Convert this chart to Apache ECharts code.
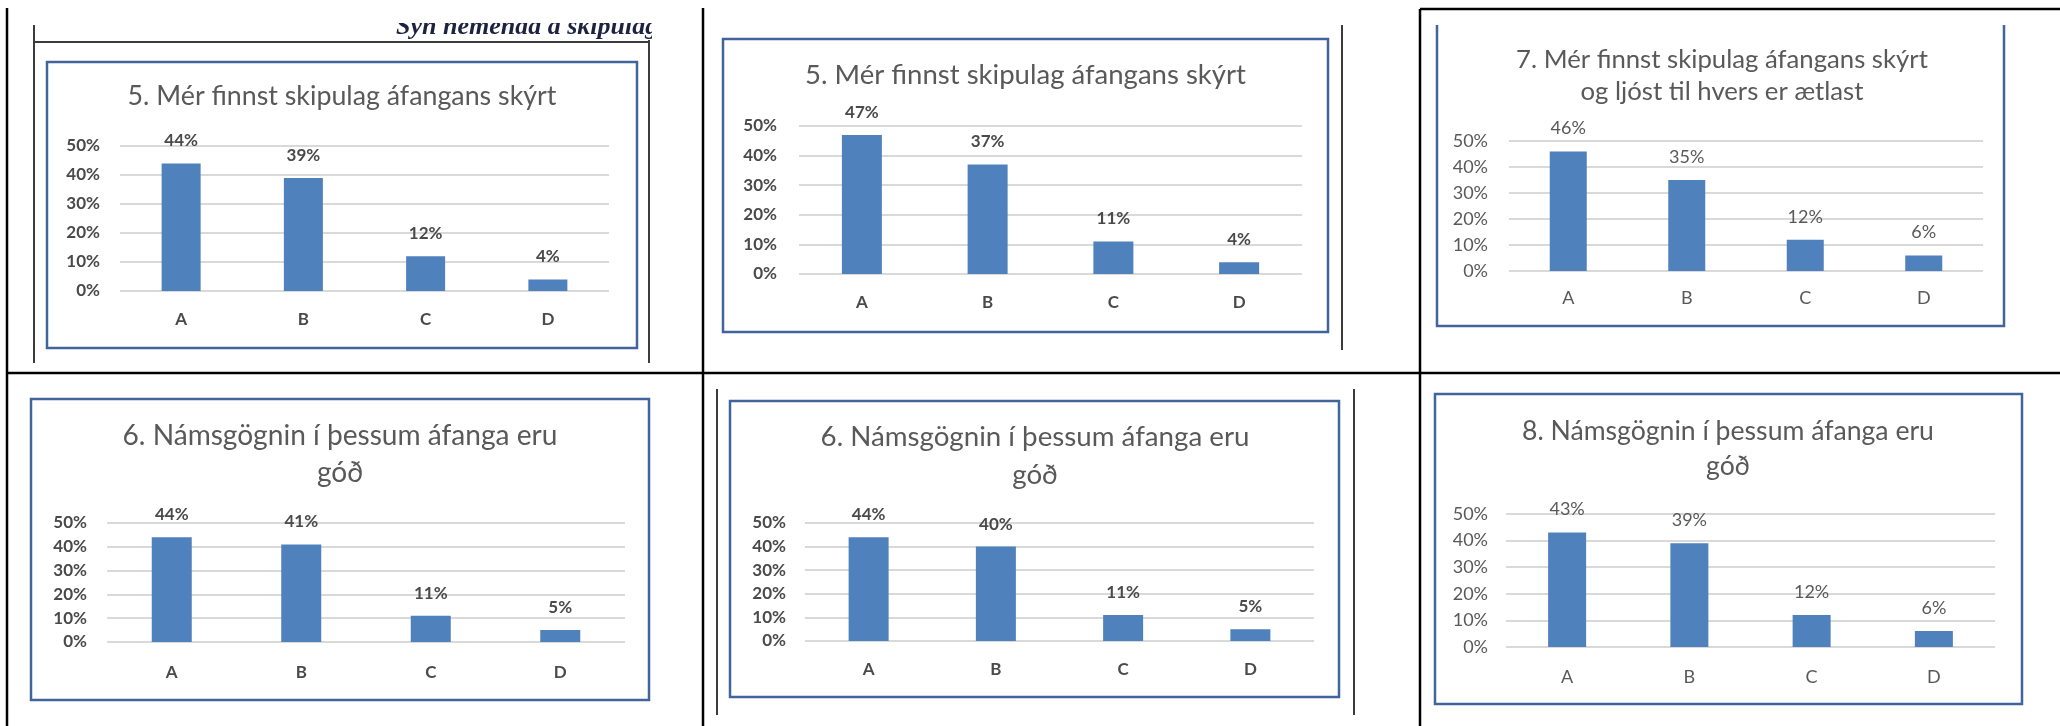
<!DOCTYPE html>
<html>
<head>
<meta charset="utf-8">
<title>Skipulag og námsgögn</title>
<script src="https://cdn.jsdelivr.net/npm/echarts@6/dist/echarts.min.js"></script>
<style>
    html, body { margin: 0; padding: 0; background: #fff; }
    #chart { width: 2060px; height: 726px; }
</style>
</head>
<body>
<div id="chart"></div>
<script>
    // data
    const categories = ['A', 'B', 'C', 'D'];
    const q5first = [44, 39, 12, 4];
    const q5second = [47, 37, 11, 4];
    const q7 = [46, 35, 12, 6];
    const q6first = [44, 41, 11, 5];
    const q6second = [44, 40, 11, 5];
    const q8 = [43, 39, 12, 6];
    const yMin = 0, yMax = 50, yStep = 10;

    const title5 = '5. Mér finnst skipulag áfangans skýrt';
    const title6 = '6. Námsgögnin í þessum áfanga eru\ngóð';
    const title7 = '7. Mér finnst skipulag áfangans skýrt\nog ljóst til hvers er ætlast';
    const title8 = '8. Námsgögnin í þessum áfanga eru\ngóð';
    const caption = 'Sýn nemenda á skipulag';

    // layout of each panel (px in the 2060x726 page)
    const panels = [
        {title: title5, data: q5first,  grid: [120, 146, 489, 145], box: [47, 62, 590, 286],   cx: 342,    base: 107, tw: 429, lh: 36, bold: true,  bar: 39, xm: 20, ym: 20},
        {title: title5, data: q5second, grid: [799, 126, 503, 148], box: [723, 39, 605, 293],  cx: 1025.5, base: 86,  tw: 441, lh: 36, bold: true,  bar: 40, xm: 20, ym: 22},
        {title: title7, data: q7,       grid: [1509, 141, 474, 130], box: null,                cx: 1722,   base: 70,  tw: 412, lh: 32, bold: false, bar: 37, xm: 18, ym: 21},
        {title: title6, data: q6first,  grid: [107, 523, 518, 119], box: [31, 399, 618, 301],  cx: 340,    base: 447, tw: 435, lh: 37, bold: true,  bar: 40, xm: 22, ym: 20},
        {title: title6, data: q6second, grid: [805, 523, 509, 118], box: [730, 401, 609, 296], cx: 1035,   base: 448, tw: 429, lh: 38, bold: true,  bar: 40, xm: 20, ym: 19},
        {title: title8, data: q8,       grid: [1506, 514, 489, 133], box: [1435, 394, 587, 310], cx: 1728, base: 442, tw: 412, lh: 35, bold: false, bar: 38, xm: 21, ym: 18}
    ];

    const font = 'Lato';
    const barColor = '#4F81BD';
    const gridColor = '#d9d9d9';
    const frameBlue = '#41659b';
    const frameGray = '#3c3c3c';

    // size the title font so the first line is as wide as in the picture
    const ctx = document.createElement('canvas').getContext('2d');
    function fitSize(text, target) {
        ctx.font = '400 100px ' + font;
        return 100 * target / ctx.measureText(text.split('\n')[0]).width;
    }

    const titles = [], grids = [], xAxes = [], yAxes = [], series = [];
    panels.forEach(function (p, i) {
        const fs = fitSize(p.title, p.tw);
        titles.push({
            text: p.title,
            left: p.cx,
            top: p.base - p.lh / 2 - 0.387 * fs,
            textAlign: 'center',
            padding: 0,
            textStyle: {fontFamily: font, fontWeight: 'normal', fontSize: fs, lineHeight: p.lh, color: '#595959'}
        });
        const txt = {
            fontFamily: font,
            fontWeight: p.bold ? 'bold' : 'normal',
            fontSize: p.bold ? 17 : 18,
            color: p.bold ? '#4a4a4a' : '#595959'
        };
        grids.push({left: p.grid[0], top: p.grid[1], width: p.grid[2], height: p.grid[3]});
        xAxes.push({
            gridIndex: i, type: 'category', data: categories,
            axisLine: {show: false}, axisTick: {show: false},
            axisLabel: Object.assign({margin: p.xm}, txt)
        });
        yAxes.push({
            gridIndex: i, type: 'value', min: yMin, max: yMax, interval: yStep,
            axisLine: {show: false}, axisTick: {show: false},
            axisLabel: Object.assign({margin: p.ym, formatter: '{value}%'}, txt),
            splitLine: {lineStyle: {color: gridColor, width: 2}}
        });
        series.push({
            type: 'bar', xAxisIndex: i, yAxisIndex: i,
            data: p.data, barWidth: p.bar,
            itemStyle: {color: barColor},
            label: Object.assign({show: true, position: 'top', distance: 14, formatter: '{c}%'}, txt)
        });
    });

    // table rules, pasted picture edges and chart frames
    const graphic = [];
    function rule(x1, y1, x2, y2, color, w) {
        graphic.push({type: 'line', shape: {x1: x1, y1: y1, x2: x2, y2: y2}, style: {stroke: color, lineWidth: w}, z: 10});
    }
    rule(7, 8, 7, 726, '#000', 2.5);
    rule(703, 8, 703, 726, '#000', 2.5);
    rule(1420, 9, 1420, 726, '#000', 2.5);
    rule(7, 373, 2060, 373, '#000', 2.5);
    rule(1420, 9, 2060, 9, '#000', 2.5);
    rule(34, 25, 34, 363, frameGray, 2);
    rule(34, 42, 650, 42, frameGray, 2);
    rule(649, 40, 649, 363, frameGray, 2);
    rule(1342, 25, 1342, 350, frameGray, 2);
    rule(717, 389, 717, 715, frameGray, 2);
    rule(1354, 389, 1354, 715, frameGray, 2);

    panels.forEach(function (p) {
        if (!p.box) return;
        graphic.push({
            type: 'rect',
            shape: {x: p.box[0], y: p.box[1], width: p.box[2], height: p.box[3]},
            style: {fill: 'none', stroke: frameBlue, lineWidth: 2.5}, z: 10
        });
    });
    graphic.push({
        type: 'polyline',
        shape: {points: [[1437, 25], [1437, 326], [2004, 326], [2004, 25]]},
        style: {fill: 'none', stroke: frameBlue, lineWidth: 2.5}, z: 10
    });

    // clipped caption of the pasted picture
    graphic.push({
        type: 'text', z: 5,
        style: {text: caption, x: 396, y: 27, verticalAlign: 'middle',
                font: 'italic bold 26px "Liberation Serif"', fill: '#1c2340'}
    });
    graphic.push({type: 'rect', z: 6, shape: {x: 380, y: 0, width: 280, height: 23}, style: {fill: '#fff'}});
    graphic.push({type: 'rect', z: 6, shape: {x: 652, y: 0, width: 48, height: 41}, style: {fill: '#fff'}});

    const chart = echarts.init(document.getElementById('chart'));
    chart.setOption({
        animation: false,
        backgroundColor: '#fff',
        title: titles,
        grid: grids,
        xAxis: xAxes,
        yAxis: yAxes,
        series: series,
        graphic: graphic
    });
    window.addEventListener('resize', function () {
        chart.resize();
    });
</script>
</body>
</html>
